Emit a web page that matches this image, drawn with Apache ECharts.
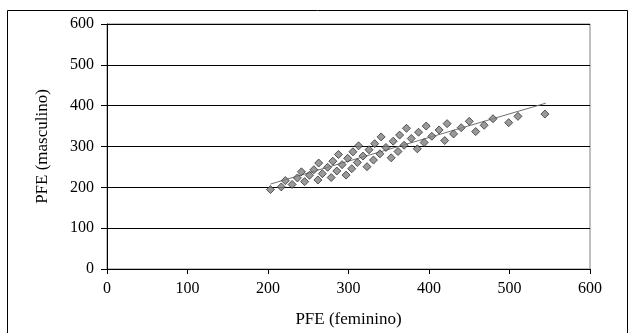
<!DOCTYPE html>
<html>
<head>
<meta charset="utf-8">
<script src="https://cdn.jsdelivr.net/npm/echarts@6/dist/echarts.min.js"></script>
<style>html,body{margin:0;padding:0;background:#fff;}#c{width:630px;height:333px;}</style>
</head>
<body>
<div id="c"></div>
<script>
const xLabel = 'PFE (feminino)';
const yLabel = 'PFE (masculino)';
const xTicks = [0, 100, 200, 300, 400, 500, 600];
const yTicks = [0, 100, 200, 300, 400, 500, 600];
const femVals = [203, 216.5, 221.5, 230, 236.5, 241.5, 245.5, 251.5, 257, 263, 262, 267.5, 274, 280.5, 287.5, 278.5, 285.5, 292, 299, 305.5, 312.5, 297, 304, 311, 318, 325.5, 332.5, 340.5, 323, 331, 339, 346.5, 355.5, 363.5, 372, 353, 361.5, 369, 378, 387, 396.5, 385.5, 394, 403.5, 412.5, 422.5, 419.5, 430.5, 440, 450, 458, 468.5, 479.5, 499, 510.5, 544];
const mascVals = [194.6, 201, 216.5, 207, 223, 238, 214, 229.5, 243, 259.5, 218, 233.5, 249, 264, 280.5, 224, 240, 255.5, 271, 287, 301.6, 230, 245.7, 261, 276.5, 292, 307, 323.5, 250.5, 266.8, 282, 297.6, 313, 328, 344.6, 272.4, 287.8, 303, 319.5, 335, 350, 294.3, 309.7, 325, 340.5, 356, 314.6, 330.8, 346, 361.6, 336.5, 352, 368, 358.4, 373.8, 379.5];
const trendX = [203, 545];
const trendY = [208, 406];

const pts = femVals.map((v, i) => [v, mascVals[i]]);
const trend = trendX.map((v, i) => [v, trendY[i]]);
const font = '"Liberation Serif", "Times New Roman", serif';

const chart = echarts.init(document.getElementById('c'), null, {renderer: 'canvas'});
chart.setOption({
  animation: false,
  backgroundColor: '#fff',
  graphic: [{
    type: 'rect', shape: {x: 7.5, y: 10.5, width: 620, height: 340},
    style: {fill: 'none', stroke: '#000', lineWidth: 1}, z: -1
  }],
  grid: {left: 107, right: 40, top: 24, bottom: 63, show: true, borderColor: '#808080', borderWidth: 1},
  xAxis: {
    type: 'value', min: xTicks[0], max: xTicks[xTicks.length - 1], interval: 100,
    name: xLabel, nameLocation: 'middle', nameGap: 42,
    nameTextStyle: {fontFamily: font, fontSize: 17, color: '#000'},
    axisLine: {onZero: false, lineStyle: {color: '#000', width: 1}},
    axisTick: {show: true, length: 5, lineStyle: {color: '#000'}},
    axisLabel: {fontFamily: font, fontSize: 16, color: '#000', margin: 12},
    splitLine: {show: false}
  },
  yAxis: {
    type: 'value', min: yTicks[0], max: yTicks[yTicks.length - 1], interval: 100,
    name: yLabel, nameLocation: 'middle', nameGap: 56, nameRotate: 90,
    nameTextStyle: {fontFamily: font, fontSize: 17, color: '#000'},
    axisLine: {show: true, lineStyle: {color: '#000', width: 1}},
    axisTick: {show: true, length: 6, lineStyle: {color: '#000'}},
    axisLabel: {fontFamily: font, fontSize: 16, color: '#000', margin: 13},
    splitLine: {show: true, lineStyle: {color: '#000', width: 1}}
  },
  series: [
    {
      type: 'line', data: trend, symbol: 'none', silent: true,
      lineStyle: {color: '#707070', width: 1}, z: 3
    },
    {
      type: 'scatter', data: pts, symbol: 'diamond', symbolSize: 8,
      itemStyle: {color: '#808080', borderColor: '#333', borderWidth: 1}, z: 4
    }
  ]
});
</script>
</body>
</html>
